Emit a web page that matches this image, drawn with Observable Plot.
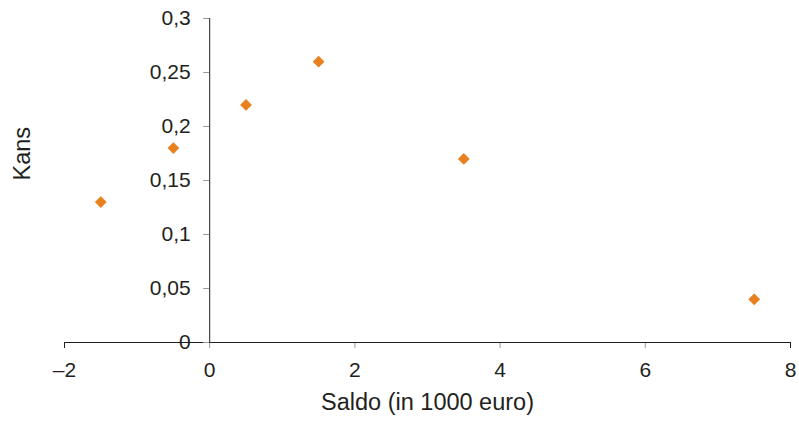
<!DOCTYPE html>
<html>
<head>
<meta charset="utf-8">
<script src="https://cdn.jsdelivr.net/npm/d3@7"></script>
<script src="https://cdn.jsdelivr.net/npm/@observablehq/plot@0.6"></script>
<style>
  html, body { margin: 0; padding: 0; background: #fff; }
  #chart svg { display: block; }
</style>
</head>
<body>
<div id="chart"></div>
<script>
// Chance by account balance
const saldo = [-1.5, -0.5, 0.5, 1.5, 3.5, 7.5];
const kans = [0.13, 0.18, 0.22, 0.26, 0.17, 0.04];
const xTicks = [-2, 0, 2, 4, 6, 8];
const yTicks = [0, 0.05, 0.1, 0.15, 0.2, 0.25, 0.3];

const points = saldo.map((s, i) => ({saldo: s, kans: kans[i]}));
const fmtX = d => String(d).replace("-", "\u2013");
const fmtY = d => String(d).replace(".", ",");

const font = "'Liberation Sans', Arial, Helvetica, sans-serif";
const ink = "#231f20";

const chart = Plot.plot({
  width: 799,
  height: 425,
  marginLeft: 64,
  marginRight: 9,
  marginTop: 18,
  marginBottom: 83,
  style: {fontFamily: font, fontSize: "21px", color: ink, background: "#fff"},
  x: {type: "linear", domain: [-2, 8], axis: null},
  y: {type: "linear", domain: [0, 0.3], axis: null},
  marks: [
    // x axis along y = 0
    Plot.ruleX(xTicks, {x: d => d, y1: 0, y2: 0, insetBottom: -6, stroke: d => (d === -2 || d === 8) ? ink : "#999"}),
    Plot.ruleY([0], {stroke: ink, strokeWidth: 1}),
    Plot.text(xTicks, {x: d => d, y: 0, dy: 28, text: fmtX, fill: ink, fontSize: 21}),
    // y axis along x = 0
    Plot.ruleY(yTicks, {y: d => d, x1: 0, x2: 0, insetLeft: -6, stroke: "#999"}),
    Plot.ruleX([0], {stroke: ink, strokeWidth: 1}),
    Plot.text(yTicks, {x: 0, y: d => d, dx: -19, text: fmtY, textAnchor: "end", fill: ink, fontSize: 21}),
    // axis titles
    Plot.text(["Saldo (in 1000 euro)"], {frameAnchor: "bottom", dy: 67, text: d => d, fill: ink, fontSize: 23.5}),
    Plot.text(["Kans"], {frameAnchor: "left", dx: -42, rotate: -90, text: d => d, fill: ink, fontSize: 23.5}),
    // data
    Plot.dot(points, {x: "saldo", y: "kans", symbol: "diamond2", r: 5.3, fill: "#e8801f", stroke: "none"})
  ]
});
document.getElementById("chart").append(chart);
</script>
</body>
</html>
